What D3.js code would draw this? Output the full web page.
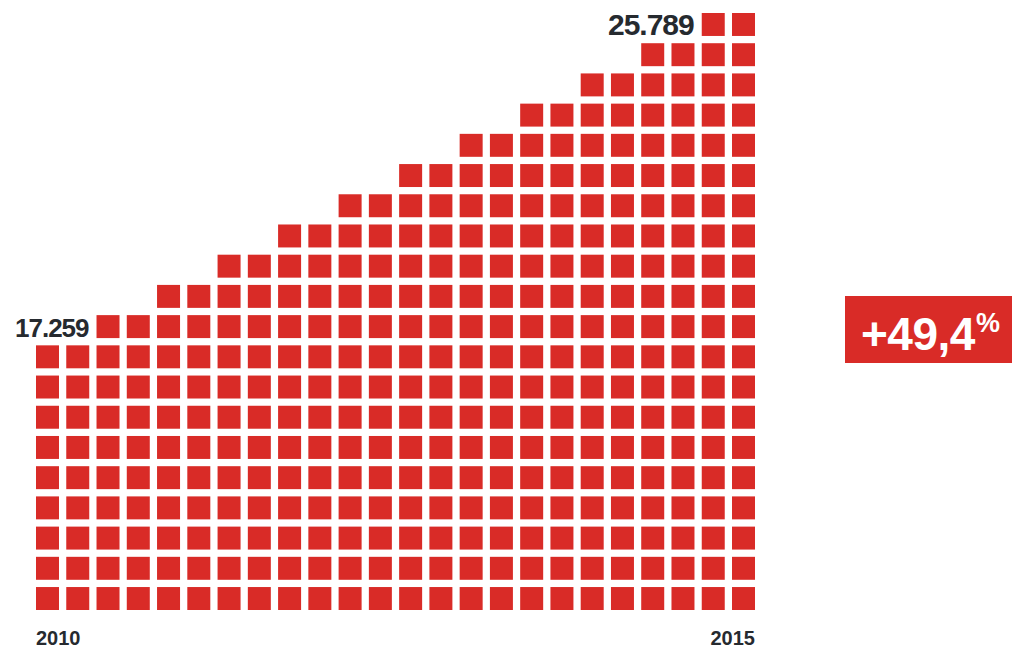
<!DOCTYPE html>
<html>
<head>
<meta charset="utf-8">
<script src="https://cdn.jsdelivr.net/npm/d3@7"></script>
<style>
  html, body { margin: 0; padding: 0; background: #fff; }
  svg { display: block; font-family: "Liberation Sans", Arial, Helvetica, sans-serif; }
</style>
</head>
<body>
<svg id="chart" width="1013" height="648"></svg>
<script>
// Number of stacked squares in each column, left to right
const columnHeights = [9, 9, 10, 10, 11, 11, 12, 12, 13, 13, 14, 14,
                       15, 15, 16, 16, 17, 17, 18, 18, 19, 19, 20, 20];
const startValue = "17.259";
const endValue = "25.789";
const yearLabels = ["2010", "2015"];
const changeLabel = "+49,4";
const changeUnit = "%";

const red = "#d92b27";
const ink = "#262a2f";

const svg = d3.select("#chart");

const maxRows = d3.max(columnHeights);

const x = d3.scaleBand()
  .domain(d3.range(columnHeights.length))
  .range([36, 755])
  .paddingInner(0.24)
  .paddingOuter(0);

const y = d3.scaleBand()
  .domain(d3.range(maxRows))
  .range([610, 13])
  .paddingInner(0.24)
  .paddingOuter(0);

// one cell per square
const cells = columnHeights.flatMap((h, c) => d3.range(h).map(r => ({ c, r })));

svg.append("g")
  .selectAll("rect")
  .data(cells)
  .join("rect")
  .attr("x", d => x(d.c))
  .attr("y", d => y(d.r))
  .attr("width", x.bandwidth())
  .attr("height", y.bandwidth())
  .attr("fill", red);

// value at the start: sits to the left of the first taller column, one row above column 1
const firstTop = columnHeights[0];
svg.append("text")
  .attr("x", x(2) - 8)
  .attr("y", y(firstTop) + y.bandwidth() - 1)
  .attr("text-anchor", "end")
  .attr("font-size", 26)
  .attr("font-weight", "bold")
  .attr("letter-spacing", -1)
  .attr("fill", ink)
  .text(startValue);

// value at the end: beside the top squares of the last columns
const lastIdx = columnHeights.length - 2;
svg.append("text")
  .attr("x", x(lastIdx) - 8)
  .attr("y", y(columnHeights[lastIdx] - 1) + y.bandwidth() - 0.5)
  .attr("text-anchor", "end")
  .attr("font-size", 30)
  .attr("font-weight", "bold")
  .attr("letter-spacing", -1)
  .attr("fill", ink)
  .text(endValue);

// year labels under the first and last columns
svg.append("text")
  .attr("x", x(0))
  .attr("y", 645)
  .attr("font-size", 20)
  .attr("font-weight", "bold")
  .attr("fill", ink)
  .text(yearLabels[0]);

svg.append("text")
  .attr("x", x(columnHeights.length - 1) + x.bandwidth())
  .attr("y", 645)
  .attr("text-anchor", "end")
  .attr("font-size", 20)
  .attr("font-weight", "bold")
  .attr("fill", ink)
  .text(yearLabels[1]);

// change badge
const badge = svg.append("g").attr("transform", "translate(845,296)");
badge.append("rect")
  .attr("width", 167)
  .attr("height", 67)
  .attr("fill", red);
const t = badge.append("text")
  .attr("x", 16)
  .attr("y", 54)
  .attr("font-size", 46)
  .attr("font-weight", "bold")
  .attr("letter-spacing", -0.5)
  .attr("fill", "#fff");
t.append("tspan").text(changeLabel);
t.append("tspan")
  .attr("font-size", 27)
  .attr("dy", -18)
  .attr("dx", 1)
  .text(changeUnit);
</script>
</body>
</html>
